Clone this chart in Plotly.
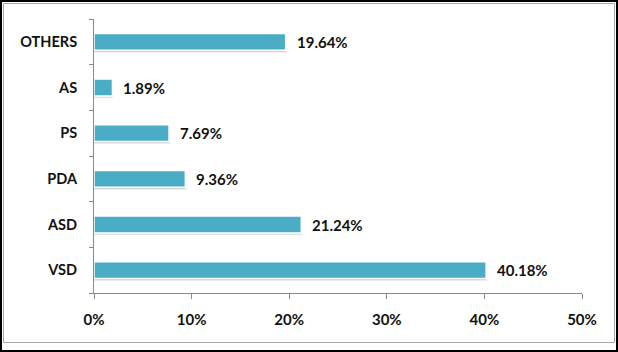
import plotly.graph_objects as go

categories = ["VSD", "ASD", "PDA", "PS", "AS", "OTHERS"]
values = [40.18, 21.24, 9.36, 7.69, 1.89, 19.64]
labels = ["40.18%", "21.24%", "9.36%", "7.69%", "1.89%", "19.64%"]
x_ticks = [0, 10, 20, 30, 40, 50]
x_tick_labels = ["0%", "10%", "20%", "30%", "40%", "50%"]

W, H = 618, 352
ML, MR, MT, MB = 94, 36, 19, 59
PW, PH = W - ML - MR, H - MT - MB

def px(x):
    return (x - ML) / PW

def py(y):
    return (H - MB - y) / PH

BAR = "#4BACC6"
TXT = "#111111"
AX = "#8a8a8a"
FONT = "Lato"
BW = 0.37

fig = go.Figure()
# soft drop shadow beneath the bars
fig.add_trace(go.Bar(
    x=values, y=categories, orientation="h",
    width=BW, offset=-BW / 2 - 0.03,
    marker=dict(color="rgba(0,0,0,0.13)", line=dict(color="rgba(0,0,0,0.08)", width=2)),
    hoverinfo="skip",
))
fig.add_trace(go.Bar(
    x=values, y=categories, orientation="h",
    width=BW, offset=-BW / 2,
    marker=dict(color=BAR, line=dict(color="white", width=1.5)),
    hoverinfo="skip",
))

for v, c, t in zip(values, categories, labels):
    fig.add_annotation(x=v, y=c, text=f"<b>{t}</b>", showarrow=False,
                       xanchor="left", yanchor="middle", xshift=9,
                       font=dict(family=FONT, size=15, color=TXT))

shapes = [
    dict(type="rect", xref="paper", yref="paper",
         x0=px(1), x1=px(617), y0=py(1), y1=py(351),
         line=dict(color="black", width=2), fillcolor="rgba(0,0,0,0)", layer="below"),
    dict(type="rect", xref="paper", yref="paper",
         x0=px(3.5), x1=px(614.5), y0=py(3.5), y1=py(342.5),
         line=dict(color="#a6a6a6", width=1), fillcolor="rgba(0,0,0,0)", layer="below"),
]

fig.update_layout(
    width=W, height=H,
    margin=dict(l=ML, r=MR, t=MT, b=MB),
    paper_bgcolor="white", plot_bgcolor="white",
    showlegend=False,
    barmode="overlay",
    shapes=shapes,
    font=dict(family=FONT, size=15, color=TXT),
    xaxis=dict(range=[0, 50], tickvals=x_ticks,
               ticktext=[f"<b>{t}</b>" for t in x_tick_labels],
               showgrid=False, zeroline=False, showline=True, linecolor=AX, linewidth=1,
               ticks="outside", ticklen=5, tickcolor=AX, ticklabelstandoff=8,
               tickfont=dict(family=FONT, size=15, color=TXT), fixedrange=True),
    yaxis=dict(type="category", categoryarray=categories, categoryorder="array",
               tickvals=categories, ticktext=[f"<b>{c}</b>" for c in categories],
               tickson="boundaries", showgrid=False, zeroline=False,
               showline=True, linecolor=AX, linewidth=1,
               ticks="outside", ticklen=4, tickcolor=AX, ticklabelstandoff=13,
               tickfont=dict(family=FONT, size=14.5, color=TXT), fixedrange=True),
)

fig.write_html("out.html", config={"displayModeBar": False})
